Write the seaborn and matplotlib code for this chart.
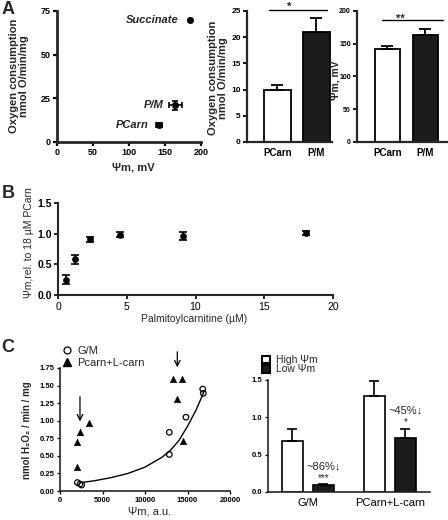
import matplotlib
matplotlib.use("Agg")
import matplotlib.pyplot as plt
import numpy as np
import pandas as pd
import seaborn as sns
from matplotlib.lines import Line2D
from matplotlib.patches import Patch

# ---------------- data ----------------
# Panel A (scatter)
a_subs = ["Succinate", "P/M", "PCarn"]
a_psi = [185, 164, 142]
a_psi_err = [0, 9, 4]
a_o2 = [70, 21, 10]
a_o2_err = [0, 2.7, 0.8]

# Panel A (bars)
a_bar_cats = ["PCarn", "P/M"]
a_bar_o2 = [10, 21]
a_bar_o2_err = [0.8, 2.7]
a_bar_psi = [142, 164]
a_bar_psi_err = [5, 9]

# Panel B
b_conc = [0.6, 1.2, 2.3, 4.5, 9.1, 18.0]
b_psi = [0.25, 0.58, 0.91, 0.98, 0.96, 1.01]
b_err = [0.07, 0.07, 0.04, 0.04, 0.07, 0.03]

# Panel C (scatter)
c_gm_x = [2040, 2350, 2550, 12860, 12860, 14820, 16790, 16860]
c_gm_y = [0.12, 0.10, 0.085, 0.835, 0.52, 1.05, 1.45, 1.39]
c_pc_x = [2040, 2040, 2350, 3450, 13330, 14310, 13800, 14430]
c_pc_y = [0.70, 0.346, 0.835, 0.965, 1.59, 1.59, 1.306, 0.712]
c_fit_x = [2500, 4000, 6000, 8000, 10000, 12000, 13000, 14000, 15000, 16000, 16900]
c_fit_y = [0.12, 0.145, 0.19, 0.25, 0.34, 0.48, 0.58, 0.72, 0.92, 1.15, 1.40]
c_arrow_x = [2350, 13800]

# Panel C (bars)
c_groups = ["G/M", "PCarn+L-carn"]
c_states = ["High \u03a8m", "Low \u03a8m"]
c_high = [0.68, 1.29]
c_high_err = [0.16, 0.20]
c_low = [0.09, 0.717]
c_low_err = [0.012, 0.13]
c_pct = ["~86%\u2193", "~45%\u2193"]
c_sig = ["***", "*"]

# ---------------- style ----------------
sns.set_style("ticks")
plt.rcParams["font.family"] = ["Liberation Sans", "DejaVu Sans"]
NARROW = ["Liberation Sans Narrow", "Liberation Sans", "DejaVu Sans"]

W, H = 448, 520
fig = plt.figure(figsize=(W / 100, H / 100), dpi=100)
fig.patch.set_facecolor("white")


def add_ax(l, t, r, b):
    return fig.add_axes([l / W, 1 - b / H, (r - l) / W, (b - t) / H])


def fx(x):
    return x / W


def fy(y):
    return 1 - y / H


def style_ax(ax, lw, ticksize, tlen=3, bold=True, family=NARROW):
    sns.despine(ax=ax)
    for s in ("left", "bottom"):
        ax.spines[s].set_linewidth(lw)
    ax.tick_params(width=lw * 0.8, length=tlen, labelsize=ticksize, pad=1.5, colors="black")
    for lab in ax.get_xticklabels() + ax.get_yticklabels():
        lab.set_fontweight("bold" if bold else "normal")
        lab.set_family(family)
    ax.set_xlabel("")
    ax.set_ylabel("")
    ax.patch.set_alpha(0)


# ---------------- Panel A: scatter ----------------
ax1 = add_ax(57, 11, 201, 142)
sns.scatterplot(x=a_psi, y=a_o2, color="black", s=22, edgecolor="black", ax=ax1, zorder=3)
ax1.errorbar(a_psi, a_o2, xerr=a_psi_err, yerr=a_o2_err, fmt="none", ecolor="black",
             elinewidth=1.2, capsize=2.5, capthick=1.2)
for name, xv, yv in zip(a_subs, a_psi, a_o2):
    ax1.annotate(name, (xv, yv), xytext=(-8, 0), textcoords="offset points",
                 ha="right", va="center", fontsize=8, fontweight="bold", fontstyle="italic")
ax1.set_xlim(0, 200)
ax1.set_ylim(0, 75)
ax1.set_xticks([0, 50, 100, 150, 200])
ax1.set_yticks([0, 25, 50, 75])
style_ax(ax1, 2.0, 6.5)
fig.text(fx(19), fy(76), "Oxygen consumption\nnmol O/min/mg", rotation=90, ha="center",
         va="center", fontsize=8, fontweight="bold", linespacing=1.05)
fig.text(fx(133), fy(167), "\u03a8m, mV", ha="center", va="center", fontsize=8, fontweight="bold")

# ---------------- Panel A: bars ----------------
pal2 = ["white", "#1c1c1c"]


def bar_panel(ax, vals, errs, width):
    sns.barplot(x=a_bar_cats, y=vals, hue=a_bar_cats, palette=pal2, legend=False,
                edgecolor="black", linewidth=1.3, width=width, ax=ax)
    for cont, e in zip(ax.containers, errs):
        for p in cont.patches:
            xc = p.get_x() + p.get_width() / 2
            ax.errorbar([xc], [p.get_height()], yerr=[[0], [e]], fmt="none", ecolor="black",
                        elinewidth=1.3, capsize=4, capthick=1.3, zorder=1)


ax2 = add_ax(247, 11, 332, 142)
bar_panel(ax2, a_bar_o2, a_bar_o2_err, 0.69)
ax2.set_xlim(-0.78, 1.40)
ax2.set_ylim(0, 25)
ax2.set_yticks([0, 5, 10, 15, 20, 25])
style_ax(ax2, 1.6, 6)
ax2.tick_params(axis="x", length=0, pad=4)
for lab in ax2.get_xticklabels():
    lab.set_fontsize(7)
ax2.plot([-0.22, 1.27], [25.2, 25.2], color="black", lw=1.0, clip_on=False)
ax2.text(0.3, 25.2, "*", ha="center", va="baseline", fontsize=8, fontweight="bold")
fig.text(fx(218), fy(78), "Oxygen consumption\nnmol O/min/mg", rotation=90, ha="center",
         va="center", fontsize=8, fontweight="bold", linespacing=1.05)

ax3 = add_ax(357, 11, 447, 142)
bar_panel(ax3, a_bar_psi, a_bar_psi_err, 0.66)
ax3.set_xlim(-0.80, 1.57)
ax3.set_ylim(0, 200)
ax3.set_yticks([0, 50, 100, 150, 200])
style_ax(ax3, 1.6, 5)
ax3.tick_params(axis="x", length=0, pad=4)
for lab in ax3.get_xticklabels():
    lab.set_fontsize(7)
ax3.plot([-0.14, 1.46], [187, 187], color="black", lw=1.0, clip_on=False)
ax3.text(0.35, 184, "**", ha="center", va="baseline", fontsize=8, fontweight="bold")
fig.text(fx(335.5), fy(80), "\u03a8m, mV", rotation=90, ha="center", va="center",
         fontsize=7.5, fontweight="bold", zorder=10)

# ---------------- Panel B ----------------
axb = add_ax(58, 203, 333, 295)
sns.scatterplot(x=b_conc, y=b_psi, color="black", s=20, edgecolor="black", ax=axb, zorder=3)
axb.errorbar(b_conc, b_psi, yerr=b_err, fmt="none", ecolor="black", elinewidth=1.2,
             capsize=3, capthick=1.2)
axb.set_xlim(0, 20)
axb.set_ylim(0, 1.5)
axb.set_xticks([0, 5, 10, 15, 20])
axb.set_yticks([0, 0.5, 1.0, 1.5])
axb.yaxis.set_major_formatter(matplotlib.ticker.FormatStrFormatter("%.1f"))
style_ax(axb, 1.5, 7.5)
for lab in axb.get_xticklabels():
    lab.set_fontweight("normal")
    lab.set_family(["Liberation Sans", "DejaVu Sans"])
    lab.set_fontsize(7.5)
axb.tick_params(axis="x", pad=2)
fig.text(fx(194), fy(319), "Palmitoylcarnitine (\u00b5M)", ha="center", va="center", fontsize=7.5)
fig.text(fx(29), fy(243), "\u03a8m,rel. to 18 \u00b5M PCarn", rotation=90, ha="center",
         va="center", fontsize=7.5, family=NARROW)

# ---------------- Panel C: scatter ----------------
axc = add_ax(60, 368, 230, 491)
sns.lineplot(x=c_fit_x, y=c_fit_y, color="black", lw=1.0, ax=axc, zorder=2)
sns.scatterplot(x=c_gm_x, y=c_gm_y, marker="o", s=16, facecolor="none", edgecolor="black",
                linewidth=0.9, ax=axc, zorder=3)
sns.scatterplot(x=c_pc_x, y=c_pc_y, marker="^", s=22, color="black", edgecolor="black",
                ax=axc, zorder=3)
axc.annotate("", xy=(c_arrow_x[0], 0.99), xytext=(c_arrow_x[0], 1.34),
             arrowprops=dict(arrowstyle="->", color="black", lw=0.9, shrinkA=0, shrinkB=0))
axc.annotate("", xy=(c_arrow_x[1], 1.76), xytext=(c_arrow_x[1], 1.98),
             arrowprops=dict(arrowstyle="->", color="black", lw=0.9, shrinkA=0, shrinkB=0),
             annotation_clip=False)
axc.set_xlim(0, 20000)
axc.set_ylim(0, 1.75)
axc.set_xticks([0, 5000, 10000, 15000, 20000])
axc.set_yticks(np.arange(0, 1.76, 0.25))
axc.yaxis.set_major_formatter(matplotlib.ticker.FormatStrFormatter("%.2f"))
style_ax(axc, 1.2, 5.5, tlen=2.5)
fig.text(fx(27), fy(430), "nmol H\u2082O\u2082 / min / mg", rotation=90, ha="center", va="center",
         fontsize=7, fontweight="bold")
fig.text(fx(150), fy(512), "\u03a8m, a.u.", ha="center", va="center", fontsize=8)
leg_handles = [
    Line2D([], [], marker="o", ls="none", mfc="none", mec="black", ms=5, mew=0.9),
    Line2D([], [], marker="^", ls="none", mfc="black", mec="black", ms=6),
]
fig.legend(leg_handles, ["G/M", "Pcarn+L-carn"], loc="upper left",
           bbox_to_anchor=(fx(63), fy(346)), frameon=False, fontsize=8,
           handlelength=0.8, handletextpad=0.5, labelspacing=0.2, borderpad=0,
           borderaxespad=0)

# ---------------- Panel C: bars ----------------
df_c = pd.DataFrame({
    "group": c_groups * 2,
    "state": [c_states[0]] * 2 + [c_states[1]] * 2,
    "value": c_high + c_low,
})
axd = add_ax(268, 380, 430, 492)
sns.barplot(data=df_c, x="group", y="value", hue="state", hue_order=c_states,
            palette=pal2, width=0.76, gap=0.33, edgecolor="black", linewidth=1.2,
            legend=False, ax=axd)
for cont, errs in zip(axd.containers, [c_high_err, c_low_err]):
    for p, e in zip(cont.patches, errs):
        xc = p.get_x() + p.get_width() / 2
        axd.errorbar([xc], [p.get_height()], yerr=[[0], [e]], fmt="none", ecolor="black",
                     elinewidth=1.2, capsize=3.5, capthick=1.2, zorder=1)
low_cont = axd.containers[1]
for p, e, pct, sig in zip(low_cont.patches, c_low_err, c_pct, c_sig):
    xc = p.get_x() + p.get_width() / 2
    top = p.get_height() + e
    axd.annotate(sig, (xc, top), xytext=(0, 1), textcoords="offset points", ha="center",
                 va="bottom", fontsize=7)
    axd.annotate(pct, (xc, top), xytext=(0, 9.5), textcoords="offset points", ha="center",
                 va="bottom", fontsize=8)
axd.set_xlim(-0.485, 1.49)
axd.set_ylim(0, 1.5)
axd.set_yticks([0, 0.5, 1.0, 1.5])
axd.yaxis.set_major_formatter(matplotlib.ticker.FormatStrFormatter("%.1f"))
style_ax(axd, 1.2, 5.5, tlen=2.5)
axd.tick_params(axis="x", length=0, pad=4)
for lab in axd.get_xticklabels():
    lab.set_fontweight("normal")
    lab.set_family(["Liberation Sans", "DejaVu Sans"])
    lab.set_fontsize(8)
leg2 = [Patch(facecolor="white", edgecolor="black", linewidth=1.5),
        Patch(facecolor="#1c1c1c", edgecolor="black", linewidth=1.5)]
fig.legend(leg2, c_states, loc="upper left", bbox_to_anchor=(fx(262), fy(355)),
           frameon=False, fontsize=7.5, handlelength=0.75, handleheight=0.75,
           handletextpad=0.6, labelspacing=-0.05, borderpad=0, borderaxespad=0)

# ---------------- panel letters ----------------
for letter, (px, py) in zip("ABC", [(8, 9), (8, 194), (8, 347)]):
    fig.text(fx(px), fy(py), letter, ha="center", va="center", fontsize=13, fontweight="bold")

fig.savefig("out.png", dpi=100, facecolor="white")
